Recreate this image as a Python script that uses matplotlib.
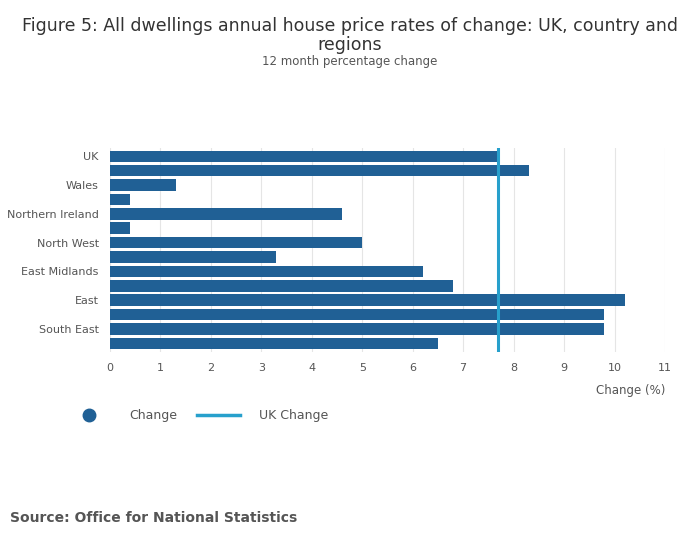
import matplotlib.pyplot as plt
from matplotlib.lines import Line2D

regions = ["UK", "England", "Wales", "Scotland", "Northern Ireland", "North East",
           "North West", "Yorkshire and The Humber", "East Midlands", "West Midlands",
           "East", "London", "South East", "South West"]
change = [7.7, 8.3, 1.3, 0.4, 4.6, 0.4, 5.0, 3.3, 6.2, 6.8, 10.2, 9.8, 9.8, 6.5]
uk_change = 7.7

bar_col = "#206095"
line_col = "#27a0cc"
txt = "#555555"

fig = plt.figure(figsize=(7, 5.49), dpi=100)
ax = fig.add_axes([0.157, 0.359, 0.793, 0.372])

y = list(range(len(regions)))
ax.barh(y, change, height=0.8, color=bar_col, zorder=2)
ax.plot([uk_change, uk_change], [-0.6, len(regions) - 0.4], color=line_col, lw=2.2, zorder=3)
ax.set_ylim(len(regions) - 0.4, -0.6)
ax.set_xlim(0, 11)
ax.set_xticks(range(12))
ax.set_yticks(y)
ax.set_yticklabels([r if i % 2 == 0 else "" for i, r in enumerate(regions)])
ax.tick_params(axis="both", length=0, labelsize=8, colors=txt, pad=8)
ax.grid(axis="x", color="#e5e5e5", lw=0.8, zorder=0)
for s in ax.spines.values():
    s.set_visible(False)
ax.set_xlabel("Change (%)", fontsize=8.5, color=txt, loc="right", labelpad=8)

fig.text(0.5, 0.935, "Figure 5: All dwellings annual house price rates of change: UK, country and\nregions",
         ha="center", va="center", fontsize=12.5, color="#333333", linespacing=1.1)
fig.text(0.5, 0.882, "12 month percentage change", ha="center", fontsize=8.5, color=txt)

handles = [Line2D([], [], marker="o", color=bar_col, ls="none", markersize=9),
           Line2D([], [], color=line_col, lw=2.5)]
fig.legend(handles, ["Change", "UK Change"], loc="center left", bbox_to_anchor=(0.08, 0.243),
           ncol=2, frameon=False, fontsize=9, labelcolor=txt, handlelength=3.5,
           columnspacing=1.5, handletextpad=1.5)

fig.text(0.014, 0.05, "Source: Office for National Statistics", fontsize=10, fontweight="bold", color=txt)

fig.savefig("out.png", dpi=100)
